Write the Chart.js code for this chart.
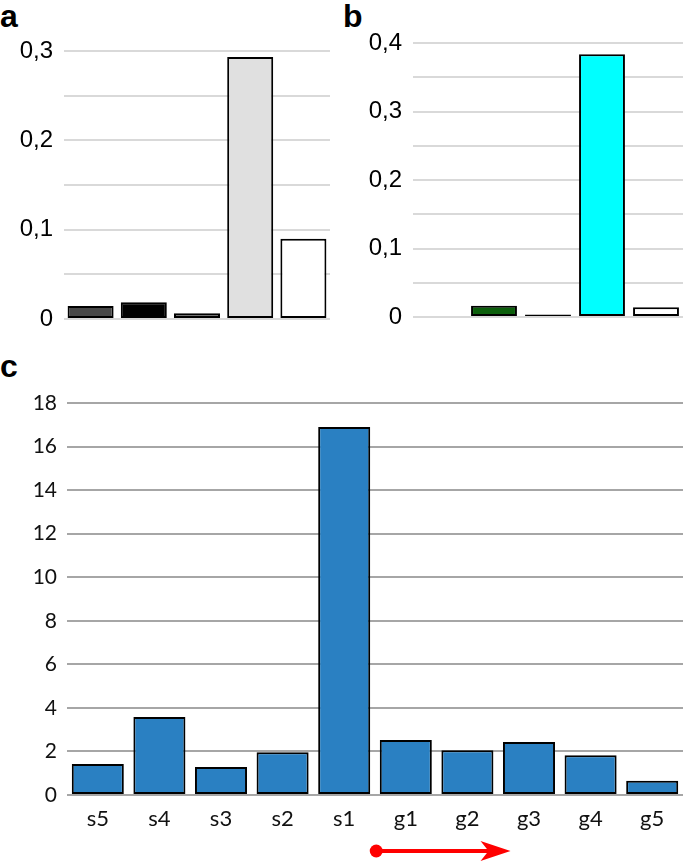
<!DOCTYPE html>
<html>
<head>
<meta charset="utf-8">
<script src="https://cdn.jsdelivr.net/npm/chart.js@4"></script>
<style>
  body { margin: 0; background: #fff; }
  #wrap { position: relative; width: 685px; height: 864px; }
  canvas { position: absolute; }
  .tag { position: absolute; font: bold 32px "Liberation Sans", Arial, sans-serif; line-height: 32px; color: #000; }
</style>
</head>
<body>
<div id="wrap">
  <div class="tag" style="left:0;top:0">a</div>
  <div class="tag" style="left:343px;top:0">b</div>
  <div class="tag" style="left:0;top:350px">c</div>
  <canvas id="chartA" width="340" height="335" style="left:0;top:0"></canvas>
  <canvas id="chartB" width="345" height="335" style="left:340px;top:0"></canvas>
  <canvas id="chartC" width="685" height="524" style="left:0;top:340px"></canvas>
</div>
<script>
// panel a
const labelsA = ['1', '2', '3', '4', '5'];
const valuesA = [0.0145, 0.0187, 0.0064, 0.2933, 0.0898];
const colorsA = ['#484848', '#000000', '#5a5a5a', '#e0e0e0', '#ffffff'];

// panel b (first slot empty)
const labelsB = ['1', '2', '3', '4', '5'];
const valuesB = [null, 0.0166, 0.0035, 0.3835, 0.0142];
const colorsB = ['#ffffff', '#0b5e0b', '#000000', '#00ffff', '#ffffff'];

// panel c
const labelsC = ['s5', 's4', 's3', 's2', 's1', 'g1', 'g2', 'g3', 'g4', 'g5'];
const valuesC = [1.42, 3.58, 1.29, 1.96, 16.9, 2.52, 2.06, 2.43, 1.83, 0.65];

const commaTick = v => {
  const r = Math.round(v * 100);
  if (r % 10 !== 0) return '';
  return r === 0 ? '0' : (r / 100).toFixed(1).replace('.', ',');
};

function smallPanel(id, labels, values, colors, max, yWidth, pad, barPct) {
  return new Chart(document.getElementById(id), {
    type: 'bar',
    data: {
      labels: labels,
      datasets: [{
        data: values,
        backgroundColor: colors,
        borderColor: '#000',
        borderWidth: 2,
        borderSkipped: false,
        barPercentage: barPct,
        categoryPercentage: 1
      }]
    },
    options: {
      responsive: false,
      animation: false,
      layout: { padding: pad },
      plugins: { legend: { display: false }, tooltip: { enabled: false } },
      scales: {
        x: { display: false },
        y: {
          min: 0, max: max,
          // fixed width, and no extra room for the end labels: padding alone sets the plot box
          afterFit: s => { s.width = yWidth; s.paddingTop = 0; s.paddingBottom = 0; },
          border: { display: false },
          grid: { color: '#d9d9d9', lineWidth: 2, drawTicks: false },
          ticks: {
            stepSize: 0.05, padding: 11, color: '#000',
            font: { family: '"Liberation Sans", Arial, sans-serif', size: 24 },
            callback: commaTick
          }
        }
      }
    }
  });
}

smallPanel('chartA', labelsA, valuesA, colorsA, 0.3, 64, { top: 51, right: 10, bottom: 16, left: 0 }, 0.865);
smallPanel('chartB', labelsB, valuesB, colorsB, 0.4, 73, { top: 43, right: 2, bottom: 18, left: 0 }, 0.85);

// red arrow under g1..g3
const arrowPlugin = {
  id: 'arrow',
  afterDraw(chart) {
    const ctx = chart.ctx;
    const xs = chart.scales.x;
    const y = chart.chartArea.bottom + 56;
    const x0 = xs.getPixelForValue(4.52);
    const x1 = xs.getPixelForValue(6.7);
    ctx.save();
    ctx.fillStyle = '#ff0000';
    ctx.strokeStyle = '#ff0000';
    ctx.lineWidth = 4;
    ctx.beginPath();
    ctx.arc(x0, y, 6.5, 0, Math.PI * 2);
    ctx.fill();
    ctx.beginPath();
    ctx.moveTo(x0, y);
    ctx.lineTo(x1 - 20, y);
    ctx.stroke();
    ctx.beginPath();
    ctx.moveTo(x1, y);
    ctx.lineTo(x1 - 30, y - 10);
    ctx.lineTo(x1 - 22, y);
    ctx.lineTo(x1 - 30, y + 10);
    ctx.closePath();
    ctx.fill();
    ctx.restore();
  }
};

new Chart(document.getElementById('chartC'), {
  type: 'bar',
  data: {
    labels: labelsC,
    datasets: [{
      data: valuesC,
      backgroundColor: '#2a80c2',
      borderColor: '#000',
      borderWidth: 2,
      borderSkipped: false,
      barPercentage: 0.845,
      categoryPercentage: 1
    }]
  },
  options: {
    responsive: false,
    animation: false,
    layout: { padding: { top: 63, right: 2, bottom: 29, left: 0 } },
    plugins: { legend: { display: false }, tooltip: { enabled: false } },
    scales: {
      x: {
        afterFit: s => { s.height = 40; },
        border: { display: false },
        grid: { display: false },
        ticks: { padding: 3, color: '#111', font: { family: 'Lato, "Open Sans", sans-serif', size: 22 } }
      },
      y: {
        min: 0, max: 18,
        afterFit: s => { s.width = 67; },
        border: { display: false },
        grid: { color: '#a6a6a6', lineWidth: 2, drawTicks: false },
        ticks: { stepSize: 2, padding: 10, color: '#111', font: { family: 'Lato, "Open Sans", sans-serif', size: 21 } }
      }
    }
  },
  plugins: [arrowPlugin]
});
</script>
</body>
</html>
